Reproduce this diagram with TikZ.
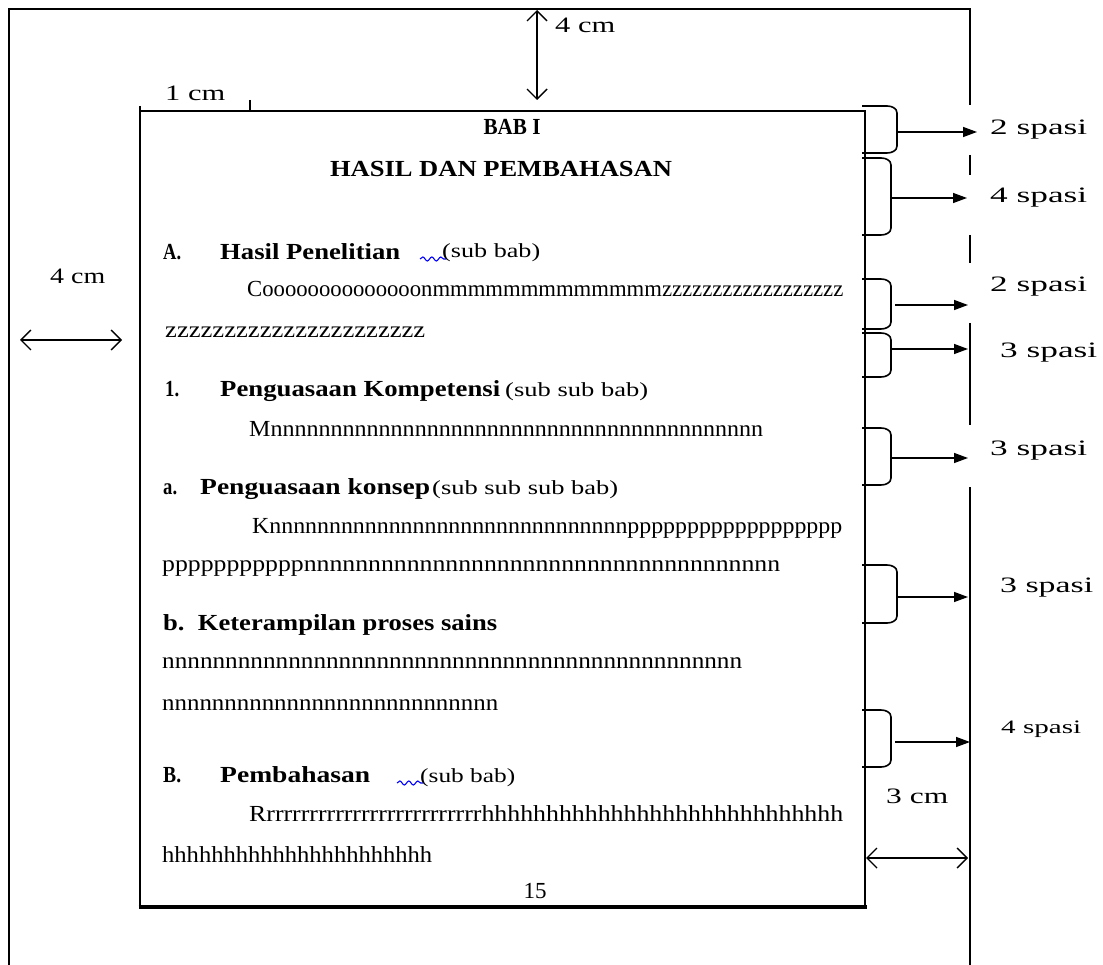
\documentclass[tikz,border=0pt]{standalone}
\usepackage{fontspec}
\setmainfont{Liberation Serif}
\usetikzlibrary{arrows.meta,decorations.pathmorphing}
\newcommand{\fw}[2]{\resizebox{#1pt}{\height}{#2}}
\newcommand{\brkt}[3]{\draw[brk] (862,#1) -- (#3-10,#1) to[out=0,in=90] (#3,#1+7) -- (#3,#2-7) to[out=-90,in=0] (#3-10,#2) -- (862,#2);}
\begin{document}
\begin{tikzpicture}[x=1pt,y=-1pt,
  frame/.style={line width=2pt},
  pg/.style={line width=1.6pt},
  body/.style={anchor=base west,inner sep=0pt,font=\fontsize{23}{27}\selectfont},
  bodyb/.style={anchor=base west,inner sep=0pt,font=\fontsize{23}{27}\selectfont\bfseries},
  note/.style={anchor=base west,inner sep=0pt,font=\fontsize{20}{24}\selectfont},
  lbl/.style={anchor=base west,inner sep=0pt,font=\fontsize{22}{26}\selectfont},
  dim/.style={line width=1.4pt,{Straight Barb[length=10pt,width=20pt]}-{Straight Barb[length=10pt,width=20pt]}},
  brk/.style={line width=1.6pt},
  barr/.style={line width=1.4pt,-{Triangle[length=14pt,width=10pt]}},
  wave/.style={blue,line width=1.1pt,decorate,decoration={snake,amplitude=2pt,segment length=9pt}}
]
\useasboundingbox[fill=white] (0,0) rectangle (1103,965);
% outer frame
\coordinate (oBL) at (9,965);
\coordinate (oTL) at (9,9);
\coordinate (oTR) at (970,9);
\coordinate (oR1) at (970,105);
\draw[frame] (oBL) -- (oTL) -- (oTR) -- (oR1);
\draw[frame] (970,155) -- (970,175);
\draw[frame] (970,235) -- (970,263);
\draw[frame] (970,323) -- (970,425);
\draw[frame] (970,487) -- (970,965);
% page
\draw[pg] (140,106) -- (140,907);
\draw[pg] (140,111) -- (865,111) -- (865,907);
\draw[line width=3.5pt] (138.5,907) -- (866.5,907);
\draw[pg] (250,100) -- (250,111);
% dimension arrows
\coordinate (ta1) at (537,10);
\coordinate (ta2) at (537,100);
\draw[dim] (ta1) -- (ta2);
\coordinate (la1) at (20,340);
\coordinate (la2) at (122,340);
\draw[dim] (la1) -- (la2);
\coordinate (ra1) at (866,858);
\coordinate (ra2) at (968,858);
\draw[dim] (ra1) -- (ra2);
\node[lbl] (t4) at (555,33) {\fw{60}{4 cm}};
\node[lbl] (t1) at (165,101) {\fw{60}{1 cm}};
\node[lbl] (l4) at (50,284) {\fw{55}{4 cm}};
\node[lbl] (r3) at (886,803) {\fw{62}{3 cm}};
% brackets
\brkt{106}{153}{897}
\brkt{158}{235}{891}
\brkt{279}{329}{891}
\brkt{333}{377}{891}
\brkt{428}{485}{891}
\brkt{565}{623}{897}
\brkt{710}{767}{891}
\coordinate (s1a) at (897,132); \coordinate (s1b) at (977,132);
\coordinate (s2a) at (891,198); \coordinate (s2b) at (967,198);
\coordinate (s3a) at (895,305); \coordinate (s3b) at (968,305);
\coordinate (s4a) at (891,349); \coordinate (s4b) at (968,349);
\coordinate (s5a) at (891,458); \coordinate (s5b) at (968,458);
\coordinate (s6a) at (897,597); \coordinate (s6b) at (968,597);
\coordinate (s7a) at (895,742); \coordinate (s7b) at (970,742);
\foreach \i in {1,...,7} {\draw[barr] (s\i a) -- (s\i b);}
\node[lbl] (sp1) at (990,135) {\fw{97}{2 spasi}};
\node[lbl] (sp2) at (990,203) {\fw{97}{4 spasi}};
\node[lbl] (sp3) at (990,292) {\fw{97}{2 spasi}};
\node[lbl] (sp4) at (1000,358) {\fw{97}{3 spasi}};
\node[lbl] (sp5) at (990,455) {\fw{97}{3 spasi}};
\node[lbl] (sp6) at (1000,592) {\fw{93}{3 spasi}};
\node[anchor=base west,inner sep=0pt,font=\fontsize{19}{22}\selectfont] (sp7) at (1001,733) {\fw{80}{4 spasi}};
% page text
\node[bodyb,anchor=base] (bab) at (512,135) {\fw{57}{BAB I}};
\node[bodyb,anchor=base] (judul) at (501,177) {\fw{342}{HASIL DAN PEMBAHASAN}};
\node[bodyb] (A) at (163,260) {\fw{18}{A.}};
\node[bodyb] (Ah) at (220,260) {\fw{180}{Hasil Penelitian}};
\draw[wave] (420,259) -- (446,259);
\node[note] (As) at (442,258) {\fw{98}{(sub bab)}};
\node[body] (c1) at (247,297) {\fw{596}{Coooooooooooooonmmmmmmmmmmmmmzzzzzzzzzzzzzzzzzz}};
\node[body] (c2) at (165,338) {\fw{260}{zzzzzzzzzzzzzzzzzzzzzz}};
\node[bodyb] (n1) at (165,396) {\fw{14}{1.}};
\node[bodyb] (n1h) at (220,396) {\fw{280}{Penguasaan Kompetensi}};
\node[note] (n1s) at (505,396) {\fw{143}{(sub sub bab)}};
\node[body] (m1) at (249,436) {\fw{514}{Mnnnnnnnnnnnnnnnnnnnnnnnnnnnnnnnnnnnnnnnnn}};
\node[bodyb] (a) at (163,494) {\fw{14}{a.}};
\node[bodyb] (ah) at (200,494) {\fw{230}{Penguasaan konsep}};
\node[note] (as) at (432,494) {\fw{186}{(sub sub sub bab)}};
\node[body] (k1) at (252,533) {\fw{590}{Knnnnnnnnnnnnnnnnnnnnnnnnnnnnnnpppppppppppppppppp}};
\node[body] (k2) at (162,571) {\fw{618}{pppppppppppnnnnnnnnnnnnnnnnnnnnnnnnnnnnnnnnnnnnn}};
\node[bodyb] (b) at (163,630) {\fw{334}{b.\ \ Keterampilan proses sains}};
\node[body] (b1) at (162,668) {\fw{580}{nnnnnnnnnnnnnnnnnnnnnnnnnnnnnnnnnnnnnnnnnnnnnn}};
\node[body] (b2) at (162,710) {\fw{336}{nnnnnnnnnnnnnnnnnnnnnnnnnnn}};
\node[bodyb] (B) at (163,782) {\fw{18}{B.}};
\node[bodyb] (Bh) at (220,782) {\fw{150}{Pembahasan}};
\draw[wave] (397,783) -- (423,783);
\node[note] (Bs) at (420,782) {\fw{95}{(sub bab)}};
\node[body] (r1) at (249,821) {\fw{594}{Rrrrrrrrrrrrrrrrrrrrrrrrrrhhhhhhhhhhhhhhhhhhhhhhhhhhhh}};
\node[body] (r2) at (162,862) {\fw{270}{hhhhhhhhhhhhhhhhhhhhhh}};
\node[body,anchor=base] (pgno) at (535,898) {15};
\end{tikzpicture}
\end{document}
